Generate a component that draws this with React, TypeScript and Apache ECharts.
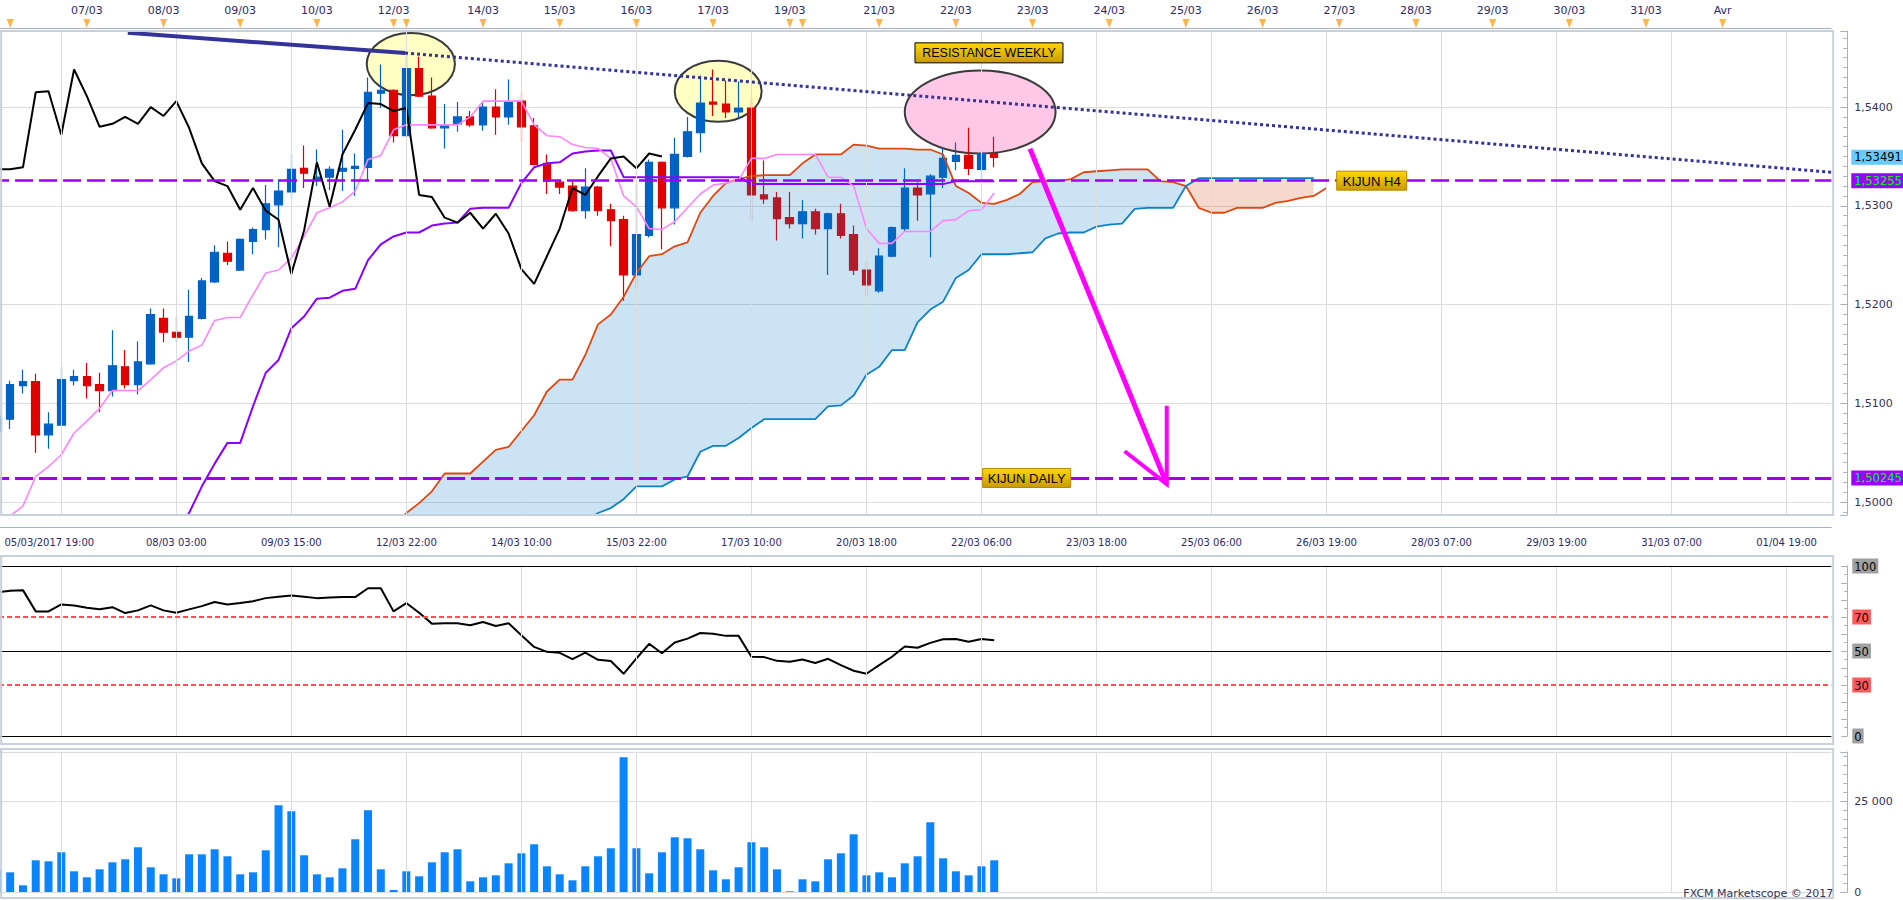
import React, { useEffect, useRef } from "react";
import * as echarts from "echarts";

// ---------------- DATA ----------------
const BAR_COUNT = 144; // 4H bars, category 0 = partly hidden first bar

// [open, close, low, high]
const CANDLES: number[][] = [
  [1.5072, 1.5087, 1.5063, 1.5096],
  [1.5084, 1.5119, 1.5074, 1.5123],
  [1.5118, 1.5122, 1.511, 1.5134],
  [1.5122, 1.5068, 1.505, 1.513],
  [1.5068, 1.5079, 1.5054, 1.5091],
  [1.5078, 1.5124, 1.5077, 1.5137],
  [1.5123, 1.5127, 1.5118, 1.5134],
  [1.5127, 1.5118, 1.5105, 1.5141],
  [1.5119, 1.5113, 1.5091, 1.5131],
  [1.5113, 1.5138, 1.5107, 1.5174],
  [1.5137, 1.5119, 1.5115, 1.5154],
  [1.5119, 1.5142, 1.5109, 1.5163],
  [1.514, 1.519, 1.5139, 1.5196],
  [1.5186, 1.5172, 1.5162, 1.5196],
  [1.5172, 1.5167, 1.5162, 1.5188],
  [1.5167, 1.5188, 1.5142, 1.5215],
  [1.5186, 1.5224, 1.5185, 1.5227],
  [1.5223, 1.5253, 1.5222, 1.526],
  [1.5252, 1.5244, 1.524, 1.5264],
  [1.5235, 1.5266, 1.5234, 1.5267],
  [1.5264, 1.5276, 1.5251, 1.5278],
  [1.5276, 1.5302, 1.5266, 1.5321],
  [1.5301, 1.5315, 1.5258, 1.5327],
  [1.5314, 1.5337, 1.5307, 1.5352],
  [1.5338, 1.5333, 1.5318, 1.5361],
  [1.5326, 1.5329, 1.532, 1.5357],
  [1.5329, 1.5337, 1.5316, 1.534],
  [1.5335, 1.5338, 1.5315, 1.5377],
  [1.5338, 1.534, 1.531, 1.5353],
  [1.5339, 1.5415, 1.5326, 1.543],
  [1.5414, 1.5417, 1.5399, 1.5443],
  [1.5417, 1.5371, 1.5364, 1.5418],
  [1.5371, 1.5439, 1.537, 1.5455],
  [1.5439, 1.5411, 1.541, 1.5451],
  [1.5411, 1.5379, 1.5378, 1.543],
  [1.5379, 1.5381, 1.5358, 1.5403],
  [1.5383, 1.539, 1.5375, 1.5405],
  [1.539, 1.5382, 1.538, 1.5396],
  [1.5382, 1.54, 1.5376, 1.5404],
  [1.54, 1.539, 1.5372, 1.5418],
  [1.539, 1.5405, 1.5382, 1.5428],
  [1.5406, 1.538, 1.5365, 1.5415],
  [1.5381, 1.5342, 1.5341, 1.5389],
  [1.5343, 1.5325, 1.5312, 1.5352],
  [1.5324, 1.5319, 1.5312, 1.5326],
  [1.532, 1.5295, 1.5294, 1.5326],
  [1.5295, 1.5319, 1.5287, 1.5338],
  [1.5319, 1.5295, 1.529, 1.532],
  [1.5296, 1.5285, 1.5259, 1.5302],
  [1.5286, 1.523, 1.5204, 1.529],
  [1.523, 1.5271, 1.5216, 1.5322],
  [1.527, 1.5344, 1.5268, 1.5347],
  [1.5344, 1.5298, 1.5256, 1.5345],
  [1.5298, 1.5352, 1.5281, 1.5369],
  [1.535, 1.5375, 1.5349, 1.539],
  [1.5374, 1.5404, 1.5354, 1.5432],
  [1.5405, 1.5403, 1.5391, 1.5438],
  [1.5403, 1.5395, 1.5389, 1.5427],
  [1.5395, 1.5399, 1.5389, 1.5426],
  [1.5399, 1.5311, 1.5284, 1.5409],
  [1.5311, 1.5307, 1.5302, 1.5346],
  [1.5308, 1.5287, 1.5265, 1.5314],
  [1.5288, 1.5282, 1.5277, 1.5314],
  [1.5282, 1.5294, 1.5267, 1.5306],
  [1.5294, 1.5277, 1.5271, 1.5297],
  [1.5277, 1.5292, 1.523, 1.5293],
  [1.5292, 1.527, 1.5267, 1.5302],
  [1.5271, 1.5235, 1.523, 1.528],
  [1.5235, 1.522, 1.5209, 1.5244],
  [1.5214, 1.5249, 1.5212, 1.5257],
  [1.5249, 1.5278, 1.5248, 1.5279],
  [1.5277, 1.5318, 1.5274, 1.5338],
  [1.5318, 1.5311, 1.5285, 1.5324],
  [1.5312, 1.533, 1.5248, 1.5332],
  [1.5329, 1.5348, 1.5318, 1.5359],
  [1.5345, 1.5351, 1.5336, 1.5364],
  [1.5351, 1.5338, 1.5331, 1.5379],
  [1.5337, 1.5353, 1.5326, 1.5356],
  [1.5353, 1.5349, 1.5339, 1.537],
];

const VOLUME = [
  6000, 5440, 1850, 8760, 8490, 10980, 5720, 4060, 6270, 8210, 9040, 12360, 6830, 4890,
  3780, 10420, 10420, 11810, 9870, 4890, 5440, 11530, 23990, 22330, 10150, 4890, 4060,
  6550, 14580, 22600, 6270, 550, 5720, 4340, 8210, 10980, 11810, 2950, 4060, 4610, 7930,
  10700, 13190, 7100, 4890, 3230, 7100, 9870, 12090, 37270, 12090, 5170, 10980, 15130,
  14850, 11810, 6000, 3510, 6830, 13750, 12360, 6270, 190, 3510, 2950, 9040, 10700,
  15960, 4610, 5440, 4060, 7930, 9870, 19280, 9320, 5720, 4610, 7100, 8760,
];

const RSI = [
  84.6, 85.4, 85.8, 73.3, 73.3, 77.4, 76.8, 75.4, 74.5, 75.8, 72.3, 73.9, 76.8, 73.9,
  72.5, 74.5, 76.4, 78.8, 77.4, 78.2, 79.3, 81.1, 81.9, 82.7, 81.9, 81.1, 81.5, 81.7,
  81.7, 86.9, 86.9, 73.3, 78.2, 72.5, 66.1, 66.3, 66.3, 65.1, 67.1, 64.7, 66.3, 59.3,
  52.4, 49.5, 48.9, 45.2, 49.1, 44.8, 44.1, 36.6, 45.6, 54.2, 48.7, 55.0, 57.3, 60.6,
  60.2, 58.9, 58.9, 46.6, 46.4, 44.2, 43.7, 45.0, 42.9, 45.4, 41.7, 38.4, 36.6, 41.7,
  46.6, 52.6, 51.9, 54.8, 56.9, 57.1, 55.4, 57.1, 56.3,
];

const TENKAN = [
  1.4978, 1.4986, 1.4996, 1.5026, 1.5036, 1.5048, 1.507, 1.5082, 1.5095, 1.5113, 1.5113,
  1.5113, 1.5124, 1.5136, 1.5143, 1.5153, 1.5159, 1.5184, 1.5187, 1.5187, 1.521, 1.5232,
  1.5235, 1.5247, 1.5269, 1.5293, 1.5298, 1.5304, 1.5315, 1.5347, 1.5351, 1.5377, 1.5382,
  1.5382, 1.5382, 1.5382, 1.5382, 1.539, 1.5406, 1.5406, 1.5406, 1.5406, 1.5382, 1.5371,
  1.537, 1.5362, 1.5359, 1.5358, 1.5348, 1.531, 1.5299, 1.5277, 1.5276, 1.5284, 1.5298,
  1.5312, 1.5321, 1.5323, 1.5326, 1.5348, 1.5348, 1.5352, 1.5352, 1.5352, 1.5352, 1.5329,
  1.5329, 1.532, 1.5277, 1.5262, 1.5262, 1.5274, 1.5274, 1.5274, 1.5285, 1.5286, 1.5295,
  1.5296, 1.5313,
];

const KIJUN_FROM_BAR = 14;
const KIJUN = [
  1.4966, 1.4989, 1.5016, 1.5039, 1.506, 1.506, 1.5097, 1.5131, 1.5144, 1.5176, 1.5188,
  1.5206, 1.5207, 1.5214, 1.5216, 1.5245, 1.5261, 1.5269, 1.5273, 1.5273, 1.528, 1.5282,
  1.5283, 1.5297, 1.5298, 1.5298, 1.5298, 1.5323, 1.5339, 1.5343, 1.5344, 1.5353, 1.5355,
  1.5356, 1.5356, 1.5329, 1.5329, 1.5329, 1.5329, 1.5329, 1.5329, 1.5329, 1.5329, 1.5329,
  1.5329, 1.5322, 1.5322, 1.5322, 1.5322, 1.5322, 1.5322, 1.5322, 1.5322, 1.5322, 1.5322,
  1.5322, 1.5322, 1.5322, 1.5322, 1.5322, 1.5322, 1.5325, 1.5325, 1.5325, 1.5325,
];

const CHIKOU = [
  1.5337, 1.5337, 1.5339, 1.5415, 1.5416, 1.5372, 1.5438, 1.5411, 1.538, 1.5383, 1.539,
  1.5383, 1.54, 1.5391, 1.5406, 1.5379, 1.5343, 1.5325, 1.532, 1.5296, 1.5318, 1.5295,
  1.5286, 1.5231, 1.5275, 1.5344, 1.5299, 1.5352, 1.5377, 1.5404, 1.5403, 1.5396, 1.5399,
  1.5311, 1.5309, 1.5288, 1.5283, 1.5293, 1.5277, 1.5292, 1.5272, 1.5236, 1.5221, 1.5249,
  1.5277, 1.5318, 1.5311, 1.533, 1.5348, 1.535, 1.5338, 1.5353, 1.535,
];

const SENKOU_FROM_BAR = 31;
const SENKOU_A = [
  1.4975, 1.4989, 1.4999, 1.5011, 1.5029, 1.5029, 1.5029, 1.5041, 1.5053, 1.5056, 1.5072,
  1.5088, 1.5112, 1.5124, 1.5124, 1.5149, 1.518, 1.519, 1.5208, 1.5232, 1.5249, 1.5251,
  1.5259, 1.5263, 1.5293, 1.531, 1.5323, 1.5327, 1.533, 1.5331, 1.5331, 1.5331, 1.5343,
  1.5352, 1.5352, 1.5352, 1.5362, 1.5361, 1.5358, 1.5358, 1.5358, 1.5357, 1.5357, 1.5352,
  1.532, 1.5313, 1.5303, 1.5302, 1.5306, 1.5312, 1.5324, 1.5325, 1.5325, 1.5327, 1.5334,
  1.5335, 1.5336, 1.5337, 1.5337, 1.5337, 1.5325, 1.5324, 1.532, 1.5298, 1.5293, 1.5293,
  1.5298, 1.5298, 1.5298, 1.5303, 1.5305, 1.5308, 1.531, 1.5318,
];
const SENKOU_B = [
  1.49, 1.4905, 1.491, 1.4912, 1.4915, 1.492, 1.4925, 1.493, 1.4935, 1.494, 1.495, 1.496,
  1.4965, 1.497, 1.4975, 1.498, 1.4989, 1.4994, 1.5003, 1.5016, 1.5016, 1.5016, 1.5023,
  1.5026, 1.5051, 1.5057, 1.5057, 1.5065, 1.5075, 1.5084, 1.5084, 1.5084, 1.5084, 1.5084,
  1.5097, 1.5098, 1.5108, 1.5129, 1.5137, 1.5154, 1.5154, 1.5182, 1.5195, 1.5203, 1.5227,
  1.5235, 1.5251, 1.5251, 1.5251, 1.5252, 1.5253, 1.5267, 1.5272, 1.5273, 1.5273, 1.5279,
  1.5281, 1.5282, 1.5297, 1.5298, 1.5298, 1.5298, 1.532, 1.5328, 1.5328, 1.5328, 1.5328,
  1.5328, 1.5328, 1.5328, 1.5328, 1.5328, 1.5328,
];

// bottom time labels: [bar, label]
const BOTTOM_TICKS: [number, string][] = [
  [5, "05/03/2017 19:00"], [14, "08/03 03:00"], [23, "09/03 15:00"], [32, "12/03 22:00"],
  [41, "14/03 10:00"], [50, "15/03 22:00"], [59, "17/03 10:00"], [68, "20/03 18:00"],
  [77, "22/03 06:00"], [86, "23/03 18:00"], [95, "25/03 06:00"], [104, "26/03 19:00"],
  [113, "28/03 07:00"], [122, "29/03 19:00"], [131, "31/03 07:00"], [140, "01/04 19:00"],
];
// top day markers: [bar, label]
const TOP_DAYS: [number, string][] = [
  [1, ""], [7, "07/03"], [13, "08/03"], [19, "09/03"], [25, "10/03"], [31, "12/03"],
  [32, ""], [38, "14/03"], [44, "15/03"], [50, "16/03"], [56, "17/03"], [62, "19/03"],
  [63, ""], [69, "21/03"], [75, "22/03"], [81, "23/03"], [87, "24/03"], [93, "25/03"],
  [99, "26/03"], [105, "27/03"], [111, "28/03"], [117, "29/03"], [123, "30/03"],
  [129, "31/03"], [135, "Avr"],
];

const LAST_PRICE = 1.53491;
const KIJUN_H4 = 1.53255;
const KIJUN_DAILY = 1.50245;
const RSI_LEVELS = [100, 70, 50, 30, 0];

// annotations in data coordinates [bar, price]
const TREND_SOLID = [[10.2, 1.54752], [31.9, 1.54547]];
const TREND_DOTTED = [[31.9, 1.54547], [143.5, 1.5334]];
// ellipses: [barLeft, barRight, priceTop, priceBottom]
const ELLIPSES_YELLOW = [
  [28.9, 35.8, 1.5475, 1.5412],
  [53.0, 59.8, 1.5447, 1.5385],
];
const ELLIPSE_PINK = [71.0, 82.8, 1.5437, 1.5353];
const ARROW_SHAFT = [[80.8, 1.53578], [91.5, 1.50182]];
const ARROW_HEAD = [[88.2, 1.50515], [91.5, 1.50182], [91.5, 1.50975]];
const RESISTANCE_LABEL = [71.8, 1.5465];
const KIJUN_H4_LABEL_BAR = 104.8;
const KIJUN_DAILY_LABEL_BAR = 77.1;

// ---------------- LAYOUT ----------------
const SHIFT = 9.17; // chart canvas starts left of the page so the first bar is cut
const GRID_WIDTH = 1840.3;
const AXIS_COLOR = "#a6b0be";
const LABEL_COLOR = "#33335a";
const GRID_LINE = "#dcdcdc";
const FONT = '"DejaVu Sans", Verdana, sans-serif';

const pad = (from: number, arr: (number | null)[]) =>
  (new Array(from).fill(null) as (number | null)[]).concat(arr);

const fmtPrice = (v: number, d: number) => v.toFixed(d).replace(".", ",");

function buildOption() {
  const categories = Array.from({ length: BAR_COUNT }, (_, k) => String(k));
  const bottomMap = new Map(BOTTOM_TICKS);
  const topMap = new Map(TOP_DAYS);
  const firstBottom = BOTTOM_TICKS[0][0];
  const senA = pad(SENKOU_FROM_BAR, SENKOU_A);
  const senB = pad(SENKOU_FROM_BAR, SENKOU_B);
  const pos = senA.map((a, k) => (a == null || senB[k] == null ? null : Math.max(a - (senB[k] as number), 0)));
  const neg = senA.map((a, k) => (a == null || senB[k] == null ? null : Math.min(a - (senB[k] as number), 0)));
  const vLines = BOTTOM_TICKS.map(([b]) => ({ xAxis: b }));
  const vLineMark = {
    silent: true,
    symbol: ["none", "none"],
    label: { show: false },
    lineStyle: { color: GRID_LINE, width: 1, type: "solid" },
    data: vLines,
  };
  const hiddenCat = (gridIndex: number) => ({
    type: "category",
    gridIndex,
    data: categories,
    show: false,
  });
  const lineS = (data: any[], color: string, width: number, z = 4) => ({
    type: "line",
    xAxisIndex: 0,
    yAxisIndex: 0,
    data,
    symbol: "none",
    silent: true,
    z,
    lineStyle: { color, width },
    itemStyle: { color },
  });
  const tagLabel = (bg: string, fg: string) => ({
    show: true,
    position: "end",
    distance: 20,
    backgroundColor: bg,
    color: fg,
    padding: [2, 3, 1, 3],
    fontSize: 11.5,
    fontFamily: FONT,
  });

  return {
    animation: false,
    backgroundColor: "#ffffff",
    textStyle: { fontFamily: FONT },
    grid: [
      { left: 0, width: GRID_WIDTH, top: 31, height: 484 },
      { left: 0, width: GRID_WIDTH, top: 19, height: 9 },
      { left: 0, width: GRID_WIDTH, top: 566, height: 170 },
      { left: 0, width: GRID_WIDTH, top: 752, height: 140 },
    ],
    xAxis: [
      {
        type: "category",
        gridIndex: 0,
        data: categories,
        position: "bottom",
        offset: 12,
        axisLine: { lineStyle: { color: AXIS_COLOR } },
        axisTick: {
          alignWithLabel: true,
          interval: (i: number) => bottomMap.has(i),
          length: 6,
          lineStyle: { color: AXIS_COLOR },
        },
        axisLabel: {
          interval: 0,
          formatter: (_v: string, i: number) => {
            const s = bottomMap.get(i) || "";
            return i === firstBottom ? `{first|${s}}` : s;
          },
          color: "#2a2a6a",
          fontSize: 10,
          margin: 10,
          rich: { first: { padding: [0, 24, 0, 0], fontSize: 10, color: "#2a2a6a" } },
        },
        splitLine: { show: false },
      },
      {
        type: "category",
        gridIndex: 1,
        data: categories,
        position: "top",
        axisLine: { lineStyle: { color: AXIS_COLOR } },
        axisTick: { interval: 0, inside: true, length: 4, lineStyle: { color: AXIS_COLOR } },
        axisLabel: {
          interval: 0,
          formatter: (_v: string, i: number) => topMap.get(i) || "",
          color: "#2a2a6a",
          fontSize: 11,
          margin: 3,
        },
      },
      hiddenCat(2),
      hiddenCat(3),
    ],
    yAxis: [
      {
        type: "value",
        gridIndex: 0,
        position: "right",
        offset: 16,
        min: 1.4987,
        max: 1.5477,
        axisLine: { show: true, lineStyle: { color: AXIS_COLOR } },
        axisTick: { show: true, inside: true, length: 7, lineStyle: { color: AXIS_COLOR } },
        minorTick: { show: true, splitNumber: 10, length: 4, lineStyle: { color: AXIS_COLOR } },
        axisLabel: {
          formatter: (v: number) => fmtPrice(v, 4),
          color: LABEL_COLOR,
          fontSize: 11,
          margin: 7,
          showMinLabel: false,
          showMaxLabel: false,
        },
        splitLine: { show: true, lineStyle: { color: GRID_LINE } },
      },
      { type: "value", gridIndex: 1, min: 0, max: 1, show: false },
      {
        type: "value",
        gridIndex: 2,
        position: "right",
        offset: 16,
        min: 0,
        max: 100,
        interval: 10,
        axisLine: { show: true, lineStyle: { color: AXIS_COLOR } },
        axisTick: { show: true, inside: true, length: 6, lineStyle: { color: AXIS_COLOR } },
        minorTick: { show: true, splitNumber: 2, length: 3, lineStyle: { color: AXIS_COLOR } },
        splitLine: { show: false },
        axisLabel: {
          margin: 5,
          formatter: (v: number) =>
            v === 70 || v === 30 ? `{r|${v}}` : v === 100 || v === 50 || v === 0 ? `{g|${v}}` : "",
          rich: {
            g: { backgroundColor: "#a0a0a0", color: "#000", padding: [2, 2, 1, 2], fontSize: 11.5, fontFamily: FONT },
            r: { backgroundColor: "#ff5a5a", color: "#000", padding: [2, 2, 1, 2], fontSize: 11.5, fontFamily: FONT },
          },
        },
      },
      {
        type: "value",
        gridIndex: 3,
        position: "right",
        offset: 16,
        min: 0,
        max: 38700,
        interval: 25000,
        axisLine: { show: true, lineStyle: { color: AXIS_COLOR } },
        axisTick: { show: true, inside: true, length: 7, lineStyle: { color: AXIS_COLOR } },
        minorTick: { show: true, splitNumber: 10, length: 4, lineStyle: { color: AXIS_COLOR } },
        splitLine: { show: true, lineStyle: { color: GRID_LINE } },
        axisLabel: {
          formatter: (v: number) => (v === 25000 ? "25 000" : v === 0 ? "0" : ""),
          color: LABEL_COLOR,
          fontSize: 11,
          margin: 7,
          showMaxLabel: false,
        },
      },
    ],
    series: [
      // vertical grid lines
      { type: "line", xAxisIndex: 0, yAxisIndex: 0, data: [], z: 1, markLine: vLineMark },
      { type: "line", xAxisIndex: 2, yAxisIndex: 2, data: [], z: 1, markLine: vLineMark },
      { type: "line", xAxisIndex: 3, yAxisIndex: 3, data: [], z: 1, markLine: vLineMark },
      // candles
      {
        type: "candlestick",
        xAxisIndex: 0,
        yAxisIndex: 0,
        data: CANDLES,
        barWidth: 8,
        z: 2,
        silent: true,
        itemStyle: {
          color: "#0062c4",
          color0: "#e00000",
          borderColor: "#0062c4",
          borderColor0: "#e00000",
          borderWidth: 1.2,
        },
      },
      // kumo
      {
        type: "line", xAxisIndex: 0, yAxisIndex: 0, data: senB, stack: "kumo", stackStrategy: "all",
        symbol: "none", silent: true, z: 3, lineStyle: { width: 0, opacity: 0 },
      },
      {
        type: "line", xAxisIndex: 0, yAxisIndex: 0, data: pos, stack: "kumo", stackStrategy: "all",
        symbol: "none", silent: true, z: 3, lineStyle: { width: 0, opacity: 0 },
        areaStyle: { color: "rgba(12,124,200,0.21)", opacity: 1 },
      },
      {
        type: "line", xAxisIndex: 0, yAxisIndex: 0, data: neg, stack: "kumo", stackStrategy: "all",
        symbol: "none", silent: true, z: 3, lineStyle: { width: 0, opacity: 0 },
        areaStyle: { color: "rgba(207,74,12,0.21)", opacity: 1 },
      },
      lineS(senA, "#e0470f", 1.8),
      lineS(senB, "#0c83c6", 1.8),
      lineS(pad(KIJUN_FROM_BAR, KIJUN), "#8a00ff", 2),
      lineS(TENKAN, "#ff85ff", 1.6),
      lineS(CHIKOU, "#000000", 2),
      // kijun levels and price tags
      {
        type: "line",
        xAxisIndex: 0,
        yAxisIndex: 0,
        data: [],
        z: 5,
        markLine: {
          silent: true,
          precision: 6,
          symbol: ["none", "none"],
          data: [
            {
              yAxis: KIJUN_H4,
              lineStyle: { color: "#9900ff", width: 2.5, type: [18, 6] },
              label: { ...tagLabel("#9900ff", "#00ff00"), formatter: () => fmtPrice(KIJUN_H4, 5) },
            },
            {
              yAxis: KIJUN_DAILY,
              lineStyle: { color: "#9900ff", width: 3, type: [18, 6] },
              label: { ...tagLabel("#9900ff", "#00ff00"), formatter: () => fmtPrice(KIJUN_DAILY, 5) },
            },
            {
              yAxis: LAST_PRICE,
              lineStyle: { color: "rgba(0,0,0,0)", width: 0 },
              label: { ...tagLabel("#66ccff", "#000000"), formatter: () => fmtPrice(LAST_PRICE, 5) },
            },
          ],
        },
      },
      // day markers
      {
        type: "scatter",
        xAxisIndex: 1,
        yAxisIndex: 1,
        data: TOP_DAYS.map(([b]) => [b, 0.5]),
        symbol: "triangle",
        symbolRotate: 180,
        symbolSize: [7, 9],
        silent: true,
        itemStyle: { color: "#ffa31a" },
      },
      // RSI
      {
        type: "line",
        xAxisIndex: 2,
        yAxisIndex: 2,
        data: RSI,
        symbol: "none",
        silent: true,
        z: 4,
        lineStyle: { color: "#000", width: 2 },
        markLine: {
          silent: true,
          precision: 2,
          symbol: ["none", "none"],
          label: { show: false },
          data: RSI_LEVELS.map((lv) => ({
            yAxis: lv,
            lineStyle:
              lv === 70 || lv === 30
                ? { color: "#ff5050", width: 2, type: [5, 3] }
                : { color: "#000", width: 1, type: "solid" },
          })),
        },
      },
      // Volume
      {
        type: "bar",
        xAxisIndex: 3,
        yAxisIndex: 3,
        data: VOLUME,
        barWidth: 8,
        silent: true,
        itemStyle: { color: "#0a84ff" },
      },
    ],
  };
}

function buildGraphics(chart: any) {
  const toPx = (c: number, v: number) => {
    const c0 = Math.floor(c);
    const a = chart.convertToPixel({ xAxisIndex: 0, yAxisIndex: 0 }, [c0, v]);
    const b = chart.convertToPixel({ xAxisIndex: 0, yAxisIndex: 0 }, [c0 + 1, v]);
    return [a[0] + (c - c0) * (b[0] - a[0]), a[1]];
  };
  const ellipse = (box: number[], fill: string) => {
    const p1 = toPx(box[0], box[2]);
    const p2 = toPx(box[1], box[3]);
    return {
      type: "ellipse",
      z: 1,
      silent: true,
      shape: {
        cx: (p1[0] + p2[0]) / 2,
        cy: (p1[1] + p2[1]) / 2,
        rx: Math.abs(p2[0] - p1[0]) / 2,
        ry: Math.abs(p2[1] - p1[1]) / 2,
      },
      style: { fill, stroke: "#3a3a3a", lineWidth: 2 },
    };
  };
  const gold = new echarts.graphic.LinearGradient(0, 0, 0, 1, [
    { offset: 0, color: "#ffd800" },
    { offset: 1, color: "#c99a00" },
  ]);
  const box = (x: number, y: number, w: number, h: number, text: string, stroke: string, fs: number) => [
    {
      type: "rect",
      z: 12,
      silent: true,
      shape: { x, y, width: w, height: h },
      style: { fill: gold, stroke, lineWidth: 1 },
    },
    {
      type: "text",
      z: 13,
      silent: true,
      x: x + w / 2,
      y: y + h / 2 + 0.5,
      style: {
        text,
        fill: "#000",
        font: `${fs}px "Liberation Sans", Arial, sans-serif`,
        textAlign: "center",
        textVerticalAlign: "middle",
      },
    },
  ];

  const solid = TREND_SOLID.map(([c, v]) => toPx(c, v));
  const dotted = TREND_DOTTED.map(([c, v]) => toPx(c, v));
  const shaft = ARROW_SHAFT.map(([c, v]) => toPx(c, v));
  const head = ARROW_HEAD.map(([c, v]) => toPx(c, v));
  const res = toPx(RESISTANCE_LABEL[0], RESISTANCE_LABEL[1]);
  const h4 = toPx(KIJUN_H4_LABEL_BAR, KIJUN_H4);
  const dl = toPx(KIJUN_DAILY_LABEL_BAR, KIJUN_DAILY);

  const frame = (y: number, h: number) => ({
    type: "rect",
    z: 20,
    silent: true,
    shape: { x: 1 + SHIFT, y, width: 1832, height: h },
    style: { fill: "none", stroke: "#c8d0da", lineWidth: 2 },
  });

  return [
    frame(31, 484),
    frame(556, 188),
    frame(749, 149),
    ...ELLIPSES_YELLOW.map((b) => ellipse(b, "#ffffc4")),
    ellipse(ELLIPSE_PINK, "#ffc8e6"),
    {
      type: "polyline",
      z: 10,
      silent: true,
      shape: { points: solid },
      style: { stroke: "#333399", lineWidth: 4, fill: "none" },
    },
    {
      type: "polyline",
      z: 10,
      silent: true,
      shape: { points: dotted },
      style: { stroke: "#333399", lineWidth: 3.2, lineDash: [3, 3], fill: "none" },
    },
    {
      type: "polyline",
      z: 11,
      silent: true,
      shape: { points: shaft },
      style: { stroke: "#ff00ff", lineWidth: 5, fill: "none" },
    },
    {
      type: "polyline",
      z: 11,
      silent: true,
      shape: { points: head },
      style: { stroke: "#ff00ff", lineWidth: 4, fill: "none", lineJoin: "miter" },
    },
    ...box(res[0], res[1], 148, 20, "RESISTANCE WEEKLY", "#000000", 12.5),
    ...box(h4[0], h4[1] - 9.5, 70, 19, "KIJUN H4", "#b08800", 13),
    ...box(dl[0], dl[1] - 9.5, 88, 19, "KIJUN DAILY", "#b08800", 13),
    {
      type: "text",
      z: 21,
      silent: true,
      x: 1833 + SHIFT,
      y: 893,
      style: {
        text: "FXCM Marketscope © 2017",
        fill: "#33335a",
        font: `11px ${FONT}`,
        textAlign: "right",
        textVerticalAlign: "middle",
      },
    },
  ];
}

export default function App() {
  const ref = useRef<HTMLDivElement>(null);
  useEffect(() => {
    document.body.style.margin = "0";
    document.body.style.overflow = "hidden";
    const chart = echarts.init(ref.current as HTMLDivElement, null, { renderer: "svg" });
    chart.setOption(buildOption() as any);
    chart.setOption({ graphic: buildGraphics(chart) } as any);
    return () => chart.dispose();
  }, []);
  return <div ref={ref} style={{ width: 1903 + SHIFT, height: 900, marginLeft: -SHIFT }} />;
}
